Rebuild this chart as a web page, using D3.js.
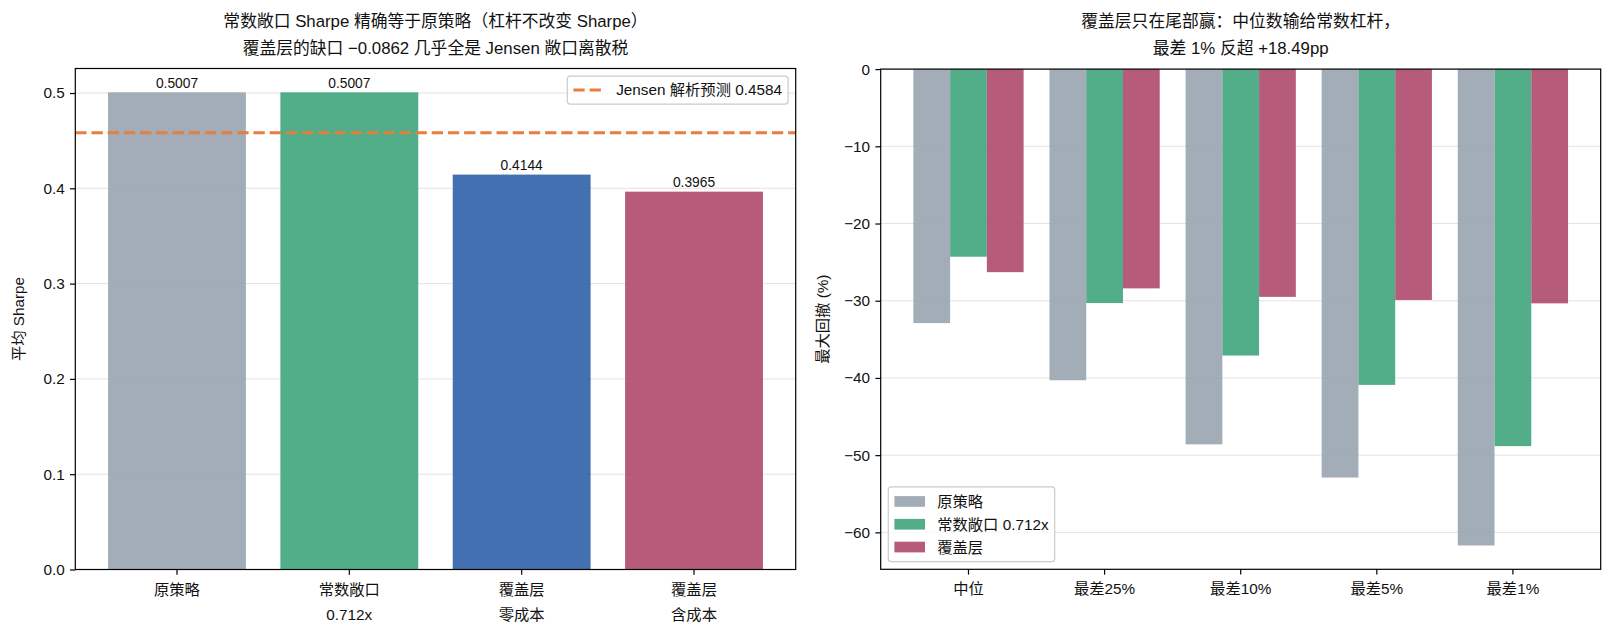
<!DOCTYPE html>
<html><head><meta charset="utf-8">
<script src="https://cdn.jsdelivr.net/npm/d3@7"></script>
<style>
body{margin:0;background:#fff;}
svg text{font-family:"Liberation Sans","Noto Sans CJK SC",sans-serif;fill:#111;}
</style></head>
<body><svg id="c" width="1612" height="637"></svg>
<script>
// ---- data ----
const leftCategories = [["原策略"], ["常数敞口","0.712x"], ["覆盖层","零成本"], ["覆盖层","含成本"]];
const leftSharpe = [0.5007, 0.5007, 0.4144, 0.3965];
const leftColors = ["#99a4b0", "#3fa57b", "#2f60a7", "#ae4a6b"];
const jensenValue = 0.4584;
const leftTicks = [0.0, 0.1, 0.2, 0.3, 0.4, 0.5];

const rightCategories = ["中位", "最差25%", "最差10%", "最差5%", "最差1%"];
const seriesNames = ["原策略", "常数敞口 0.712x", "覆盖层"];
const seriesOriginal = [-32.9, -40.3, -48.6, -52.9, -61.7];
const seriesConst = [-24.3, -30.3, -37.1, -40.9, -48.83];
const seriesOverlay = [-26.3, -28.4, -29.5, -29.9, -30.34];
const seriesColors = ["#99a4b0", "#3fa57b", "#ae4a6b"];
const rightTicks = [0, -10, -20, -30, -40, -50, -60];

const svg = d3.select("#c");
const FS = 15.3, TFS = 16.8, LFS = 13.8;
const minus = v => String(v).replace("-", "\u2212");

function frame(g, x0, x1, y0, y1){
  g.append("rect").attr("x",x0).attr("y",y0).attr("width",x1-x0).attr("height",y1-y0)
   .attr("fill","none").attr("stroke","#000").attr("stroke-width",1.2);
}
function title(cx, lines){
  lines.forEach((t,i)=>svg.append("text").attr("x",cx).attr("y",27+i*26.7)
    .attr("text-anchor","middle").attr("font-size",TFS).text(t));
}

// ================= LEFT =================
{
  const L={x0:75.3,x1:795.7,y0:68.5,y1:569.5};
  const x = d3.scaleBand().domain(d3.range(leftSharpe.length)).range([L.x0,L.x1]).paddingInner(0.2).paddingOuter(0.19);
  const y = d3.scaleLinear().domain([0, d3.max(leftSharpe)*1.05]).range([L.y1,L.y0]);
  const g = svg.append("g");
  g.selectAll("line.grid").data(leftTicks).join("line")
    .attr("x1",L.x0).attr("x2",L.x1).attr("y1",d=>y(d)).attr("y2",d=>y(d))
    .attr("stroke","#e3e3e3").attr("stroke-width",1);
  g.selectAll("rect.bar").data(leftSharpe).join("rect")
    .attr("x",(d,i)=>x(i)).attr("width",x.bandwidth())
    .attr("y",d=>y(d)).attr("height",d=>y(0)-y(d))
    .attr("fill",(d,i)=>leftColors[i]).attr("fill-opacity",0.9);
  g.selectAll("text.val").data(leftSharpe).join("text")
    .attr("x",(d,i)=>x(i)+x.bandwidth()/2).attr("y",d=>y(d)-4.5)
    .attr("text-anchor","middle").attr("font-size",LFS).text(d=>d3.format(".4f")(d));
  g.append("line").attr("x1",L.x0).attr("x2",L.x1).attr("y1",y(jensenValue)).attr("y2",y(jensenValue))
    .attr("stroke","#e87d3e").attr("stroke-width",3).attr("stroke-dasharray","11.3,4.9");
  // axes
  const ya = d3.axisLeft(y).tickValues(leftTicks).tickSize(5.3).tickPadding(5.3).tickFormat(d3.format(".1f"));
  const yg = svg.append("g").attr("transform",`translate(${L.x0},0)`).call(ya);
  yg.select(".domain").remove();
  yg.selectAll("text").attr("font-size",FS).attr("fill","#111");
  yg.selectAll("line").attr("stroke","#000").attr("stroke-width",1.2);
  const xa = d3.axisBottom(x).tickSize(5.3).tickFormat("");
  const xg = svg.append("g").attr("transform",`translate(0,${L.y1})`).call(xa);
  xg.select(".domain").remove();
  xg.selectAll("line").attr("stroke","#000").attr("stroke-width",1.2);
  leftCategories.forEach((lines,i)=>{
    lines.forEach((t,k)=>svg.append("text").attr("x",x(i)+x.bandwidth()/2).attr("y",595+k*25)
      .attr("text-anchor","middle").attr("font-size",FS).text(t));
  });
  frame(svg,L.x0,L.x1,L.y0,L.y1);
  svg.append("text").attr("transform",`translate(24,${(L.y0+L.y1)/2}) rotate(-90)`)
    .attr("text-anchor","middle").attr("font-size",FS).text("平均 Sharpe");
  title((L.x0+L.x1)/2, ["常数敞口 Sharpe 精确等于原策略（杠杆不改变 Sharpe）","覆盖层的缺口 \u22120.0862 几乎全是 Jensen 敞口离散税"]);
  // legend
  const lg = svg.append("g");
  const box = lg.append("rect");
  const txt = lg.append("text").attr("font-size",FS).text("Jensen 解析预测 "+jensenValue.toFixed(4));
  const tl = txt.node().getComputedTextLength();
  const pad=6.1, hl=30.6, hp=12.2;
  const w = pad+hl+hp+tl+pad, h=28, bx=L.x1-7.6-w, by=L.y0+7.6;
  box.attr("x",bx).attr("y",by).attr("width",w).attr("height",h).attr("rx",3)
    .attr("fill","#fff").attr("fill-opacity",0.8).attr("stroke","#cccccc").attr("stroke-width",1.2);
  lg.append("line").attr("x1",bx+pad).attr("x2",bx+pad+hl).attr("y1",by+h/2).attr("y2",by+h/2)
    .attr("stroke","#e87d3e").attr("stroke-width",3).attr("stroke-dasharray","11.3,4.9");
  txt.attr("x",bx+pad+hl+hp).attr("y",by+h/2+5.3);
}

// ================= RIGHT =================
{
  const R={x0:880.7,x1:1600.7,y0:69.1,y1:569.3};
  const allSeries=[seriesOriginal, seriesConst, seriesOverlay];
  const x = d3.scaleBand().domain(rightCategories).range([R.x0,R.x1]).paddingInner(0.19).paddingOuter(0.24);
  const xs = d3.scaleBand().domain(d3.range(3)).range([0,x.bandwidth()]).padding(0);
  const y = d3.scaleLinear().domain([d3.min(allSeries.flat())*1.05, 0]).range([R.y1,R.y0]);
  svg.selectAll("line.rgrid").data(rightTicks).join("line")
    .attr("x1",R.x0).attr("x2",R.x1).attr("y1",d=>y(d)).attr("y2",d=>y(d))
    .attr("stroke","#e3e3e3").attr("stroke-width",1);
  allSeries.forEach((vals,j)=>{
    svg.append("g").selectAll("rect").data(vals).join("rect")
      .attr("x",(d,i)=>x(rightCategories[i])+xs(j)).attr("width",xs.bandwidth())
      .attr("y",y(0)).attr("height",d=>y(d)-y(0))
      .attr("fill",seriesColors[j]).attr("fill-opacity",0.9);
  });
  const ya = d3.axisLeft(y).tickValues(rightTicks).tickSize(5.3).tickPadding(5.3).tickFormat(minus);
  const yg = svg.append("g").attr("transform",`translate(${R.x0},0)`).call(ya);
  yg.select(".domain").remove();
  yg.selectAll("text").attr("font-size",FS).attr("fill","#111");
  yg.selectAll("line").attr("stroke","#000").attr("stroke-width",1.2);
  const xa = d3.axisBottom(x).tickSize(5.3).tickPadding(5.3);
  const xg = svg.append("g").attr("transform",`translate(0,${R.y1})`).call(xa);
  xg.select(".domain").remove();
  xg.selectAll("line").attr("stroke","#000").attr("stroke-width",1.2);
  xg.selectAll("text").attr("font-size",FS).attr("fill","#111").attr("dy",null).attr("y",25);
  frame(svg,R.x0,R.x1,R.y0,R.y1);
  svg.append("text").attr("transform",`translate(828,${(R.y0+R.y1)/2}) rotate(-90)`)
    .attr("text-anchor","middle").attr("font-size",FS).text("最大回撤 (%)");
  title((R.x0+R.x1)/2, ["覆盖层只在尾部赢：中位数输给常数杠杆，","最差 1% 反超 +18.49pp"]);
  // legend
  const lg = svg.append("g");
  const box = lg.append("rect");
  const pad=6.1, hl=30.6, hp=12.2, rowH=22.8;
  const texts = seriesNames.map(s=>lg.append("text").attr("font-size",FS).text(s));
  const tl = d3.max(texts, t=>t.node().getComputedTextLength());
  const w = pad+hl+hp+tl+pad, h = 2*pad + 3*FS + 2*0.5*FS + 1.5;
  const bx = R.x0+7.6, by = R.y1-7.6-h;
  box.attr("x",bx).attr("y",by).attr("width",w).attr("height",h).attr("rx",3)
    .attr("fill","#fff").attr("fill-opacity",0.8).attr("stroke","#cccccc").attr("stroke-width",1.2);
  seriesNames.forEach((s,i)=>{
    const cy = by + pad + 8.5 + i*rowH;
    lg.append("rect").attr("x",bx+pad).attr("y",cy-5.3).attr("width",hl).attr("height",10.7)
      .attr("fill",seriesColors[i]).attr("fill-opacity",0.9);
    texts[i].attr("x",bx+pad+hl+hp).attr("y",cy+5.5);
  });
}
</script></body></html>
